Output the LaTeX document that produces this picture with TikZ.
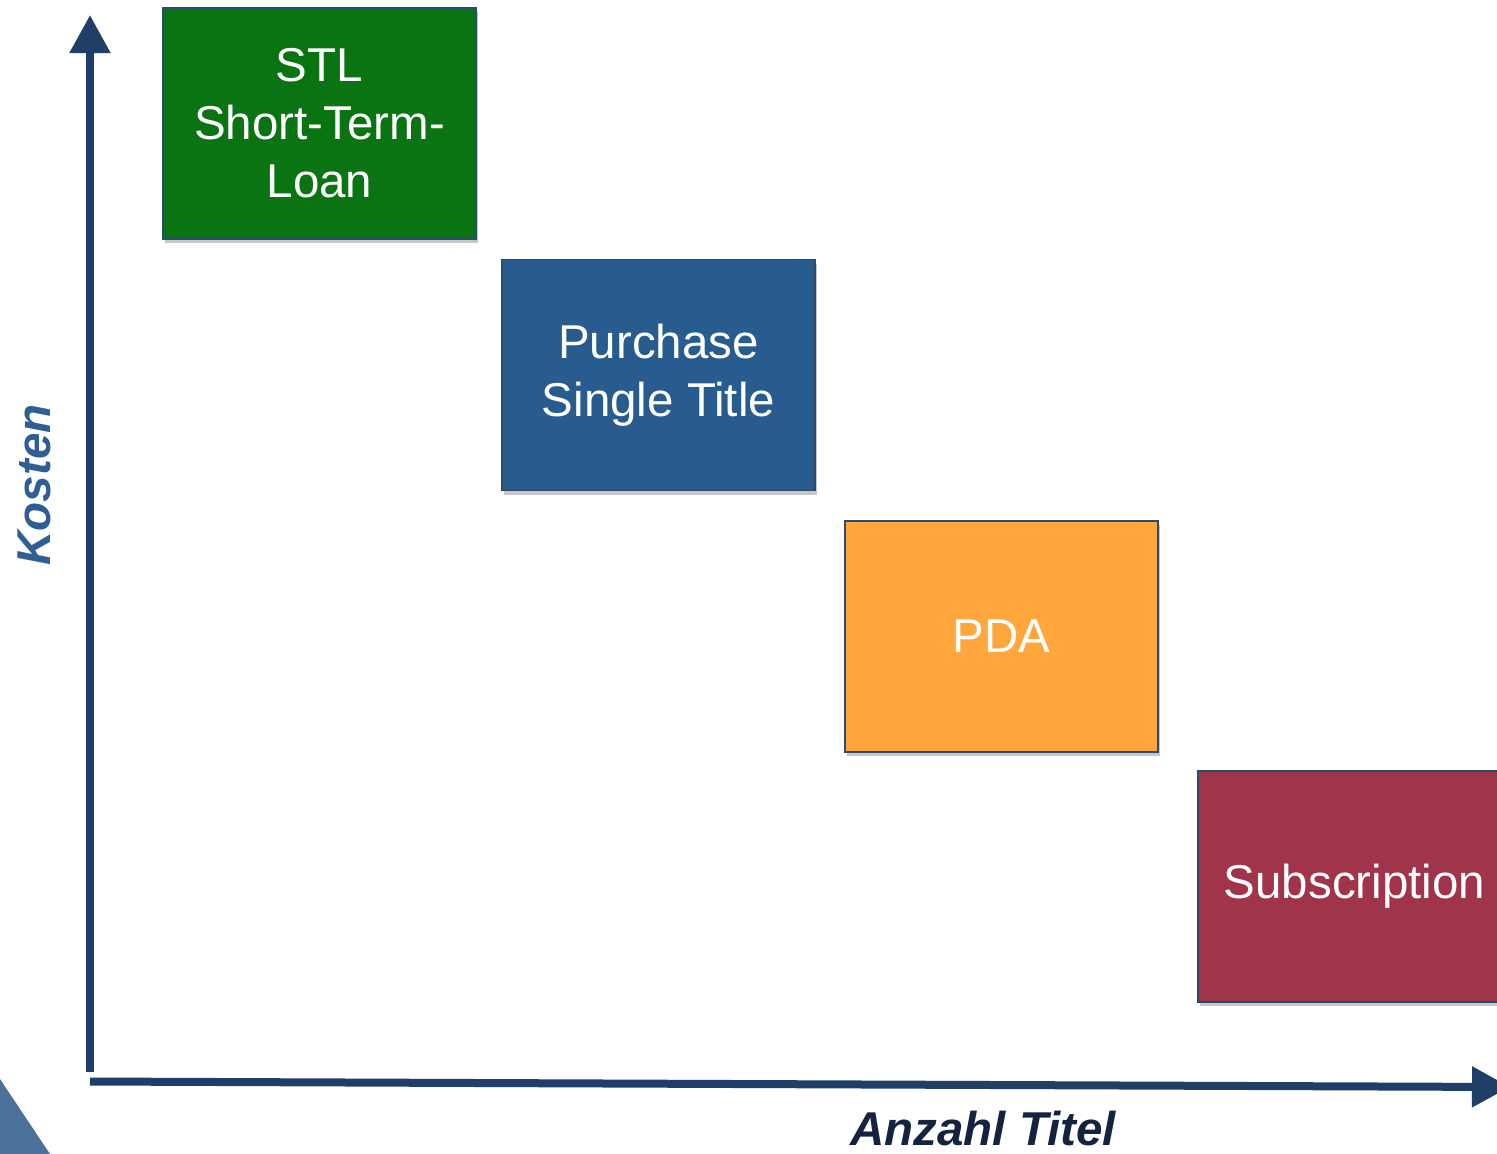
\documentclass[tikz,border=0pt]{standalone}
\usepackage{fontspec}
\setmainfont{Liberation Sans}
\usetikzlibrary{arrows.meta,shadows}
\definecolor{stlgreen}{HTML}{0B7412}
\definecolor{psblue}{HTML}{285C8E}
\definecolor{pdaorange}{HTML}{FFA73D}
\definecolor{subred}{HTML}{A0344A}
\definecolor{boxedge}{HTML}{2A4A70}
\definecolor{axisblue}{HTML}{1F3F66}
\definecolor{kostenblue}{HTML}{2E5E94}
\definecolor{titelnavy}{HTML}{14243F}
\definecolor{cornerblue}{HTML}{4A7199}
\tikzset{
  catbox/.style={draw=boxedge, line width=1.6pt, minimum width=313pt, minimum height=231pt,
    inner sep=0pt, text=white, align=center,
    font=\fontsize{47.5}{58}\selectfont,
    drop shadow={shadow xshift=2pt, shadow yshift=-4pt, opacity=0.22, fill=black}},
  axisline/.style={draw=axisblue, line width=8pt, -{Triangle[width=39pt,length=38pt]}},
  axislabel/.style={font=\fontsize{47.5}{52}\selectfont\bfseries\itshape}
}
\begin{document}
\begin{tikzpicture}[x=1pt,y=-1pt]
\useasboundingbox (0,0) rectangle (1497,1154);
\fill[cornerblue] (0,1079) -- (50,1154) -- (0,1154) -- cycle;
\node[catbox, fill=stlgreen] (stl) at (319.5,123.5) {STL\\Short-Term-\\Loan};
\node[catbox, fill=psblue] (pst) at (658.5,375) {Purchase\\Single Title};
\node[catbox, fill=pdaorange] (pda) at (1001.5,636.5) {PDA};
\node[catbox, fill=subred] (sub) at (1354.5,886.5) {Subscription};
\coordinate (yfoot) at (90,1072);
\coordinate (ytip) at (90,15);
\coordinate (xfoot) at (90,1081.5);
\coordinate (xtip) at (1510,1087);
\draw[axisline] (yfoot) -- (ytip);
\draw[axisline] (xfoot) -- (xtip);
\node[axislabel, text=kostenblue, rotate=90, anchor=base] (kosten) at (50,485) {Kosten};
\node[axislabel, text=titelnavy, anchor=base] (titel) at (983,1145) {Anzahl Titel};
\end{tikzpicture}
\end{document}
